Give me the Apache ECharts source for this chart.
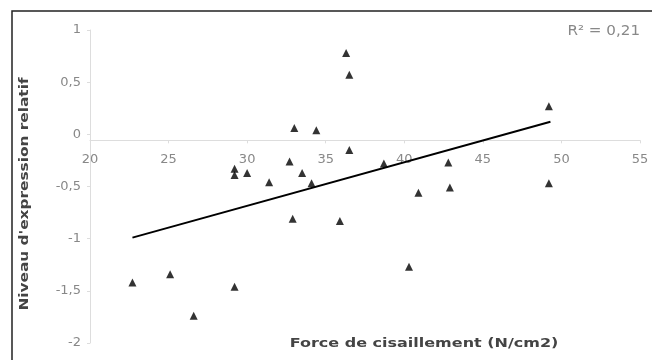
<!DOCTYPE html>
<html>
<head>
<meta charset="utf-8">
<script src="https://cdn.jsdelivr.net/npm/echarts@6/dist/echarts.min.js"></script>
<style>html,body{margin:0;padding:0;background:#fff;}#c{width:652px;height:360px;}</style>
</head>
<body>
<div id="c"></div>
<script>
const xVals = [22.7,25.1,26.6,29.2,29.2,29.2,30.0,31.4,32.7,33.0,34.4,33.5,34.1,32.9,35.9,36.3,36.5,36.5,38.7,40.9,40.3,42.8,42.9,49.2,49.2];
const yVals = [-1.42,-1.34,-1.74,-1.46,-0.33,-0.39,-0.37,-0.46,-0.26,0.06,0.04,-0.37,-0.47,-0.81,-0.83,0.78,0.57,-0.15,-0.28,-0.56,-1.27,-0.27,-0.51,0.27,-0.47];
const trendX = [22.7, 49.3];
const trendY = [-0.99, 0.12];
const xTitle = "Force de cisaillement (N/cm2)";
const yTitle = "Niveau d'expression relatif";
const r2Label = "R² = 0,21";

const chart = echarts.init(document.getElementById('c'), null, {renderer: 'canvas'});
const pts = xVals.map((x, i) => [x, yVals[i]]);
const trend = trendX.map((x, i) => [x, trendY[i]]);
const labelFont = {color: '#888', fontSize: 13, fontFamily: 'DejaVu Sans'};
chart.setOption({
  animation: false,
  backgroundColor: '#fff',
  grid: {left: 90, right: 12, top: 30, bottom: 17},
  xAxis: {
    type: 'value', min: 20, max: 55, interval: 5, position: 'bottom', offset: 0,
    axisLine: {onZero: false, lineStyle: {color: '#ddd', width: 1}},
    axisTick: {show: true, length: 3, lineStyle: {color: '#ddd'}},
    splitLine: {show: false},
    axisLabel: Object.assign({margin: 13}, labelFont)
  },
  yAxis: {
    type: 'value', min: -2, max: 1, interval: 0.5,
    axisLine: {show: true, onZero: false, lineStyle: {color: '#ddd', width: 1}},
    axisTick: {show: true, length: 3, lineStyle: {color: '#ddd'}},
    splitLine: {show: false},
    axisLabel: Object.assign({margin: 9, formatter: v => String(v).replace('.', ',')}, labelFont)
  },
  series: [
    {type: 'scatter', data: pts, symbol: 'triangle', symbolSize: 8,
     itemStyle: {color: '#000'}, z: 3},
    {type: 'line', data: trend, symbol: 'none', lineStyle: {color: '#000', width: 2}, z: 2}
  ],
  graphic: [
    {type: 'rect', shape: {x: 12, y: 11, width: 700, height: 400},
     style: {fill: 'none', stroke: '#222', lineWidth: 1.5}, silent: true},
    {type: 'text', x: 424, y: 344, scaleX: 1.23,
     style: {text: xTitle, font: 'bold 13px "DejaVu Sans"', fill: '#444', align: 'center', verticalAlign: 'middle'}},
    {type: 'text', x: 25, y: 194, rotation: Math.PI / 2, scaleX: 1.18,
     style: {text: yTitle, font: 'bold 13px "DejaVu Sans"', fill: '#444', align: 'center', verticalAlign: 'middle'}},
    {type: 'text', x: 640, y: 31, scaleX: 1.08,
     style: {text: r2Label, font: '14px "DejaVu Sans"', fill: '#888', align: 'right', verticalAlign: 'middle'}}
  ]
});
// place the x axis line on y = 0 (axis crossing at zero)
const yZero = chart.convertToPixel({yAxisIndex: 0}, 0);
const yMin = chart.convertToPixel({yAxisIndex: 0}, -2);
chart.setOption({xAxis: {offset: yZero - yMin}});
</script>
</body>
</html>
